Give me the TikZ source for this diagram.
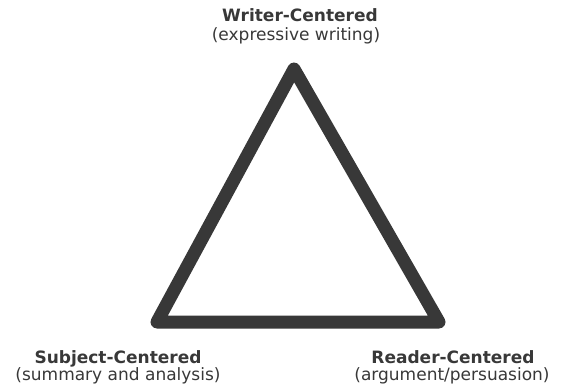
\documentclass[tikz,border=0pt]{standalone}
\usepackage{fontspec}
\setmainfont{DejaVu Sans}
\begin{document}
\begin{tikzpicture}[x=1pt,y=1pt,
  ttl/.style={anchor=base,inner sep=0pt,text=black!78,font=\fontsize{17}{19}\selectfont\bfseries},
  sub/.style={anchor=base,inner sep=0pt,text=black!78,font=\fontsize{17}{19}\selectfont},
  tri/.style={draw=black!78,line width=13pt,line join=round}]
\useasboundingbox (0,0) rectangle (563,389);
\coordinate (top) at (294,320);
\coordinate (bl) at (157,67);
\coordinate (br) at (439,67);
\draw[tri] (top) -- (bl) -- (br) -- cycle;
\node[ttl] (wt) at (300,367) {Writer-Centered};
\node[sub] (ws) at (296,348) {(expressive writing)};
\node[ttl] (st) at (118,26) {Subject-Centered};
\node[sub] (ss) at (118,9) {(summary and analysis)};
\node[ttl] (rt) at (453,26) {Reader-Centered};
\node[sub] (rs) at (452,9) {(argument/persuasion)};
\end{tikzpicture}
\end{document}
